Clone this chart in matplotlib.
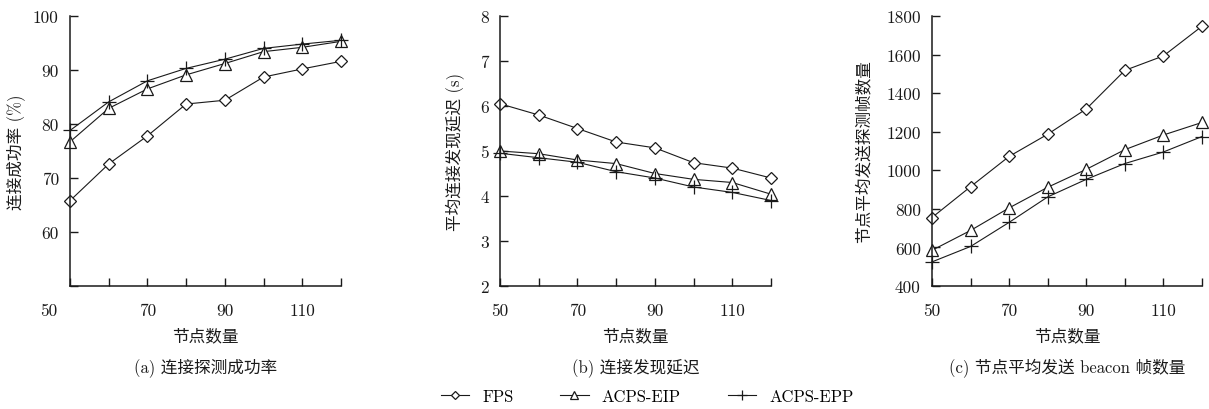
import matplotlib
matplotlib.use("Agg")
import matplotlib.pyplot as plt
from matplotlib.ticker import FixedLocator
from matplotlib.transforms import ScaledTranslation

plt.rcParams['font.family'] = ['cmr10', 'Noto Sans CJK SC']
plt.rcParams['axes.unicode_minus'] = False

nodes = [50, 60, 70, 80, 90, 100, 110, 120]
xtick_labels = ['50', '', '70', '', '90', '', '110', '']

# (a) connection success rate (%)
succ_fps = [65.8, 72.6, 77.8, 83.7, 84.4, 88.7, 90.2, 91.6]
succ_eip = [76.7, 82.9, 86.5, 89.1, 91.2, 93.4, 94.2, 95.3]
succ_epp = [78.8, 84.1, 88.0, 90.3, 92.0, 94.0, 94.8, 95.5]

# (b) discovery delay (s)
delay_fps = [6.05, 5.80, 5.50, 5.20, 5.07, 4.74, 4.62, 4.40]
delay_eip = [5.00, 4.94, 4.80, 4.72, 4.50, 4.37, 4.30, 4.04]
delay_epp = [4.95, 4.85, 4.75, 4.54, 4.40, 4.20, 4.08, 3.90]

# (c) beacon frames per node
frames_fps = [755, 915, 1072, 1187, 1318, 1518, 1593, 1747]
frames_eip = [585, 688, 805, 912, 1005, 1107, 1183, 1248]
frames_epp = [525, 605, 730, 862, 953, 1035, 1095, 1175]

series_names = ['FPS', 'ACPS-EIP', 'ACPS-EPP']

W, H = 1209, 410
fig = plt.figure(figsize=(W / 100, H / 100), dpi=100)

def px_axes(left, top, right, bottom):
    return fig.add_axes([left / W, 1 - bottom / H, (right - left) / W, (bottom - top) / H])

col = '#1a1a1a'
styles = [dict(marker='D', ms=6, mfc='white', mec=col, mew=0.9),
          dict(marker='^', ms=8.5, mfc='white', mec=col, mew=0.9),
          dict(marker='+', ms=10, mec=col, mew=0.9)]

panels = [
    dict(box=(70, 17, 341, 287), data=(succ_fps, succ_eip, succ_epp),
         ylim=(50, 100), yticks=[50, 60, 70, 80, 90, 100],
         ylabels=['', '60', '70', '80', '90', '100'],
         ylabel='连接成功率 (%)', sub='(a) 连接探测成功率', ylx=25),
    dict(box=(500, 17, 771, 287), data=(delay_fps, delay_eip, delay_epp),
         ylim=(2, 8), yticks=[2, 3, 4, 5, 6, 7, 8],
         ylabels=['2', '3', '4', '5', '6', '7', '8'],
         ylabel='平均连接发现延迟 (s)', sub='(b) 连接发现延迟', ylx=465),
    dict(box=(932, 17, 1202, 287), data=(frames_fps, frames_eip, frames_epp),
         ylim=(400, 1800), yticks=[400, 600, 800, 1000, 1200, 1400, 1600, 1800],
         ylabels=['400', '600', '800', '1000', '1200', '1400', '1600', '1800'],
         ylabel='节点平均发送探测帧数量', sub='(c) 节点平均发送 beacon 帧数量', ylx=871),
]

handles = []
for i, p in enumerate(panels):
    ax = px_axes(*p['box'])
    l, t, r, b = p['box']
    for vals, st, name in zip(p['data'], styles, series_names):
        h, = ax.plot(nodes, vals, color=col, lw=0.8, clip_on=False, label=name, **st)
        if i == 0:
            handles.append(h)
    ax.set_xlim(50, 120)
    ax.set_ylim(*p['ylim'])
    ax.xaxis.set_major_locator(FixedLocator(nodes))
    ax.set_xticklabels(xtick_labels)
    ax.yaxis.set_major_locator(FixedLocator(p['yticks']))
    ax.set_yticklabels(p['ylabels'])
    for s in ('top', 'right'):
        ax.spines[s].set_visible(False)
    for s in ('left', 'bottom'):
        ax.spines[s].set_linewidth(1.1)
        ax.spines[s].set_color(col)
    ax.tick_params(axis='both', direction='in', length=6, width=1.0, color=col,
                   labelsize=12.5, labelcolor=col)
    ax.tick_params(axis='x', pad=12)
    ax.tick_params(axis='y', pad=8)
    ax.set_xlabel('节点数量', fontsize=12, labelpad=7, color=col)
    ax.set_ylabel(p['ylabel'], fontsize=12, color=col)
    ax.yaxis.set_label_coords((p['ylx'] - l) / (r - l), 0.5)
    if i == 0:
        # the first x label of panel (a) sits left of the axis in the original
        lab = ax.get_xticklabels()[0]
        lab.set_transform(lab.get_transform() + ScaledTranslation(-0.21, 0, fig.dpi_scale_trans))
    fig.text(((l + r) / 2) / W, 1 - 368 / H, p['sub'], ha='center', va='center',
             fontsize=12, color=col)

fig.legend(handles=handles, loc='center', bbox_to_anchor=(647 / W, 1 - 397 / H),
           ncol=3, frameon=False, fontsize=12, handlelength=1.7, columnspacing=2.8,
           handletextpad=0.8, markerscale=0.7)

fig.savefig('out.png', dpi=100)
